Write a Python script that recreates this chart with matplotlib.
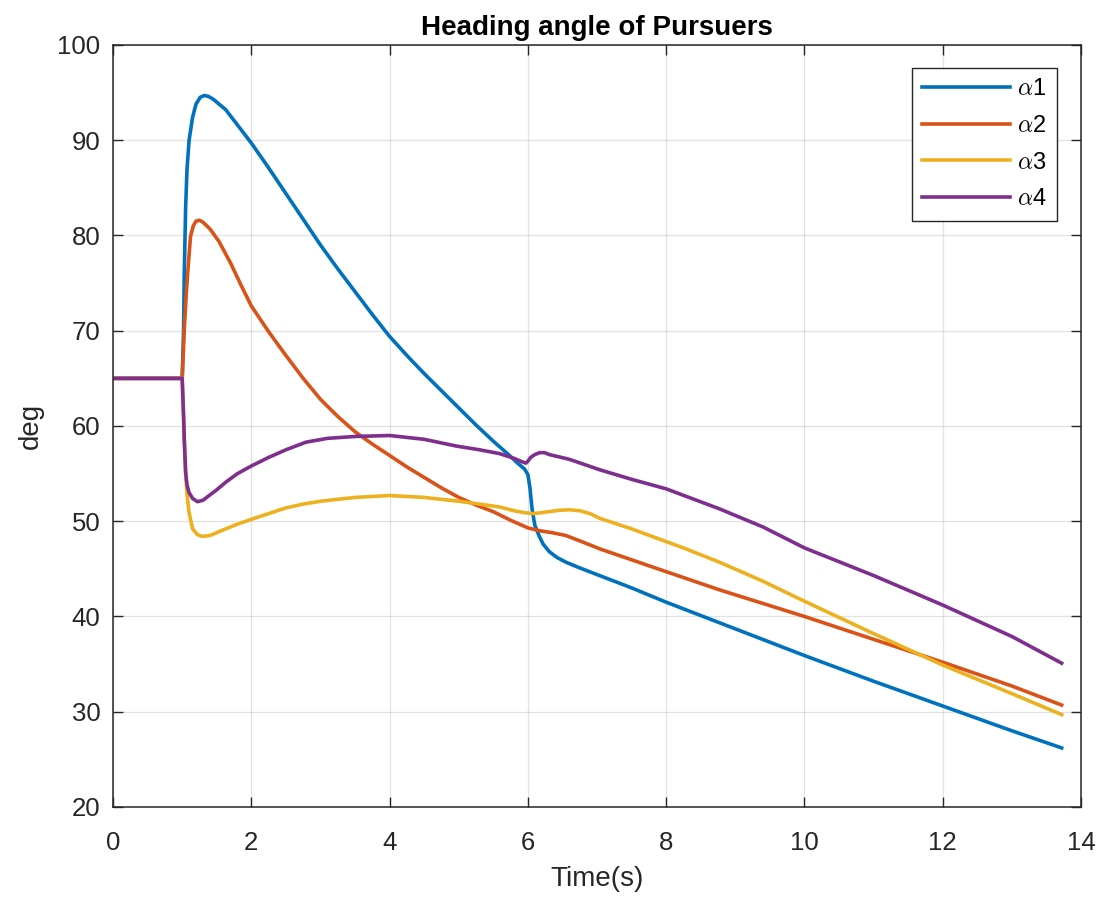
import matplotlib
matplotlib.use('Agg')
import matplotlib.pyplot as plt

# heading angles (deg), each with its own time samples
t1 = [0, 1.0, 1.02, 1.03, 1.05, 1.07, 1.1, 1.15, 1.2, 1.26, 1.32, 1.38, 1.45, 1.63, 1.8, 2.0, 2.25, 2.5,
      2.75, 3.0, 3.25, 3.5, 3.75, 4.0, 4.25, 4.5, 4.75, 5.0, 5.25, 5.5, 5.75, 5.85, 5.95, 6.0, 6.03, 6.06,
      6.1, 6.16, 6.22, 6.31, 6.42, 6.55, 6.75, 7.0, 7.5, 8.0, 9.0, 10.0, 11.0, 12.0, 13.0, 13.72]
a1 = [65, 65, 70, 76, 83, 87, 90, 92.4, 93.8, 94.5, 94.7, 94.6, 94.3, 93.2, 91.6, 89.7, 87.1, 84.4,
      81.7, 79.0, 76.5, 74.1, 71.7, 69.4, 67.4, 65.5, 63.7, 61.9, 60.1, 58.4, 56.8, 56.1, 55.5, 54.9, 53.5, 51.3,
      49.6, 48.5, 47.6, 46.8, 46.2, 45.7, 45.1, 44.4, 43.0, 41.5, 38.7, 35.9, 33.2, 30.6, 28.0, 26.2]

t2 = [0, 1.0, 1.03, 1.06, 1.08, 1.12, 1.16, 1.2, 1.25, 1.3, 1.4, 1.53, 1.7, 1.85, 2.0, 2.25, 2.5, 2.75,
      3.0, 3.25, 3.5, 3.75, 4.0, 4.25, 4.5, 4.75, 5.0, 5.25, 5.5, 5.75, 6.0, 6.17, 6.35, 6.55, 6.8, 7.04,
      7.4, 7.76, 8.77, 10.0, 11.0, 12.0, 13.0, 13.72]
a2 = [65, 65, 70.1, 74, 76.1, 79.9, 81.0, 81.5, 81.6, 81.4, 80.7, 79.4, 77.1, 74.8, 72.6, 69.9, 67.4, 65.0,
      62.8, 61.0, 59.4, 58.1, 56.9, 55.7, 54.6, 53.5, 52.5, 51.7, 51.0, 50.1, 49.3, 49.0, 48.8, 48.5, 47.8, 47.1,
      46.2, 45.3, 42.8, 40.0, 37.6, 35.2, 32.7, 30.7]

t3 = [0, 1.0, 1.02, 1.03, 1.05, 1.07, 1.1, 1.15, 1.22, 1.29, 1.4, 1.5, 1.63, 1.8, 2.0, 2.25, 2.5, 2.75,
      3.0, 3.5, 4.0, 4.5, 5.0, 5.3, 5.59, 5.8, 5.95, 6.07, 6.2, 6.3, 6.45, 6.6, 6.75, 6.9, 7.04, 7.25, 7.5,
      7.76, 8.25, 8.77, 9.4, 10.0, 11.0, 12.0, 13.0, 13.72]
a3 = [65, 65, 61, 58.6, 55.1, 52.8, 50.9, 49.2, 48.6, 48.4, 48.5, 48.8, 49.2, 49.7, 50.2, 50.8, 51.4, 51.8,
      52.1, 52.5, 52.7, 52.5, 52.1, 51.8, 51.5, 51.1, 50.9, 50.8, 50.9, 51.0, 51.15, 51.2, 51.1, 50.8, 50.3, 49.8, 49.2,
      48.5, 47.2, 45.7, 43.7, 41.6, 38.2, 34.9, 31.9, 29.7]

t4 = [0, 1.0, 1.02, 1.03, 1.05, 1.07, 1.1, 1.15, 1.22, 1.3, 1.39, 1.5, 1.63, 1.8, 2.0, 2.25, 2.5, 2.79,
      3.1, 3.5, 4.0, 4.5, 4.96, 5.3, 5.59, 5.8, 5.93, 5.97, 6.0, 6.04, 6.1, 6.17, 6.24, 6.31, 6.6, 7.04,
      7.5, 8.0, 8.77, 9.4, 10.0, 11.0, 12.0, 13.0, 13.72]
a4 = [65, 65, 61, 58.6, 55.1, 53.8, 53.0, 52.4, 52.05, 52.2, 52.7, 53.3, 54.1, 55.0, 55.8, 56.7, 57.5, 58.3,
      58.7, 58.9, 59.0, 58.6, 57.9, 57.5, 57.1, 56.6, 56.2, 56.1, 56.3, 56.7, 57.0, 57.2, 57.2, 57.0, 56.5, 55.4,
      54.4, 53.4, 51.3, 49.4, 47.2, 44.3, 41.2, 37.9, 35.1]

labels = [r'$\alpha$1', r'$\alpha$2', r'$\alpha$3', r'$\alpha$4']
colors = ['#0072BD', '#D95319', '#EDB120', '#7E2F8E']

plt.rcParams['font.family'] = ['Liberation Sans', 'DejaVu Sans']
plt.rcParams['mathtext.fontset'] = 'cm'

fig = plt.figure(figsize=(11.04, 9.05), dpi=100)
ax = fig.add_axes([0.1024, 0.1083, 0.8768, 0.842])

for t, a, lab, c in zip([t1, t2, t3, t4], [a1, a2, a3, a4], labels, colors):
    ax.plot(t, a, color=c, lw=2.6, label=lab)

ax.set_xlim(0, 14)
ax.set_ylim(20, 100)
ax.set_xticks(range(0, 15, 2))
ax.set_yticks(range(20, 101, 10))
ax.grid(True, color='#262626', alpha=0.13, lw=0.9)
ax.tick_params(direction='in', top=True, right=True, labelsize=18.5, colors='#262626', length=7, width=1)
ax.tick_params(axis='x', pad=17)
ax.tick_params(axis='y', pad=9)
for s in ax.spines.values():
    s.set_color('#262626')
    s.set_linewidth(1.1)

ax.set_title('Heading angle of Pursuers', fontsize=20, fontweight='bold', pad=7)
ax.set_xlabel('Time(s)', fontsize=20, color='#262626', labelpad=8)
ax.set_ylabel('deg', fontsize=20, color='#262626', labelpad=10)

leg = ax.legend(loc='upper right', bbox_to_anchor=(0.975, 0.970), borderaxespad=0, fontsize=17,
                handlelength=3.7, fancybox=False, edgecolor='#262626', framealpha=1, borderpad=0.45,
                labelspacing=0.62, handletextpad=0.3)
leg.get_frame().set_linewidth(1.0)

fig.savefig('out.png', dpi=100)
